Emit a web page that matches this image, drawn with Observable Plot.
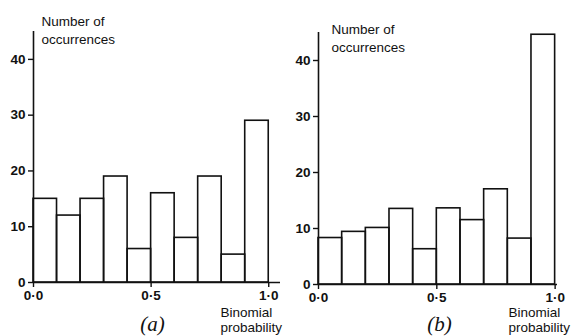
<!DOCTYPE html>
<html>
<head>
<meta charset="utf-8">
<script src="https://cdn.jsdelivr.net/npm/d3@7"></script>
<script src="https://cdn.jsdelivr.net/npm/@observablehq/plot@0.6"></script>
<style>
  html, body { margin: 0; padding: 0; background: #fff; }
  #wrap { display: flex; width: 571px; height: 336px; }
  svg { overflow: visible; }
</style>
</head>
<body>
<div id="wrap"></div>
<script>
const binStarts = [0.0, 0.1, 0.2, 0.3, 0.4, 0.5, 0.6, 0.7, 0.8, 0.9];
const binEnds   = [0.1, 0.2, 0.3, 0.4, 0.5, 0.6, 0.7, 0.8, 0.9, 1.0];
const countsA = [15, 12, 15, 19, 6, 16, 8, 19, 5, 29];
const countsB = [8.3, 9.4, 10.1, 13.5, 6.3, 13.6, 11.5, 17, 8.2, 44.6];
const xTicks = [0, 0.5, 1.0];
const yTicks = [0, 10, 20, 30, 40];
const panelLabels = ["(a)", "(b)"];
const yTitle = "Number of\noccurrences";
const xTitle = "Binomial\nprobability";

const fmtX = d => d3.format(".1f")(d).replace(".", "·");
const sans = "'Liberation Sans', Arial, sans-serif";

function panel(counts, label, opt) {
  const data = binStarts.map((s, i) => ({x1: s, x2: binEnds[i], y: counts[i]}));
  return Plot.plot({
    width: opt.width,
    height: 336,
    marginLeft: 33,
    marginRight: opt.marginRight,
    marginTop: opt.marginTop,
    marginBottom: 336 - opt.marginTop - (opt.zeroY - opt.marginTop),
    x: {domain: [0, opt.xMax]},
    y: {domain: [0, 45]},
    style: {fontFamily: sans, color: "#111", background: "#fff"},
    marks: [
      Plot.rect(data, {x1: "x1", x2: "x2", y1: 0, y2: "y", fill: "none", stroke: "#111", strokeWidth: 1.6}),
      Plot.ruleY([0], {stroke: "#111", strokeWidth: 1.6}),
      Plot.ruleX([0], {stroke: "#111", strokeWidth: 1.6}),
      Plot.axisY({ticks: yTicks, tickSize: 5, tickPadding: 3, label: null, fontSize: 13.5, fontWeight: "bold", strokeWidth: 1.4}),
      Plot.axisX({ticks: xTicks, tickSize: 5, tickPadding: 3, label: null, tickFormat: fmtX, fontSize: 13.5, fontWeight: "bold", strokeWidth: 1.4}),
      Plot.text([yTitle], {frameAnchor: "top-left", textAnchor: "start", lineAnchor: "top", dx: opt.yTitleDx, dy: opt.yTitleDy, fontSize: 13.5, lineHeight: 1.33, fill: "#111"}),
      Plot.text([xTitle], {frameAnchor: "bottom-right", textAnchor: "start", lineAnchor: "top", dx: opt.xTitleDx, dy: opt.xTitleDy, fontSize: 13.5, lineHeight: 1.11, fill: "#111"}),
      Plot.text([label], {frameAnchor: "bottom", textAnchor: "middle", lineAnchor: "top", dx: opt.labDx, dy: opt.labDy, fontSize: 21, fontStyle: "italic", fontFamily: "'Liberation Serif', 'Times New Roman', serif", fill: "#111"})
    ]
  });
}

const wrap = document.getElementById("wrap");
wrap.appendChild(panel(countsA, panelLabels[0], {
  width: 285, marginRight: 5, marginTop: 31, zeroY: 282, xMax: 1.05,
  yTitleDx: 8, yTitleDy: -18.6, xTitleDx: -60, xTitleDy: 23.4, labDx: -4.5, labDy: 34
}));
wrap.appendChild(panel(countsB, panelLabels[1], {
  width: 286, marginRight: 14, marginTop: 32, zeroY: 284, xMax: 1.01,
  yTitleDx: 13, yTitleDy: -11.6, xTitleDx: -49, xTitleDy: 21.4, labDx: 1.5, labDy: 32
}));
</script>
</body>
</html>
